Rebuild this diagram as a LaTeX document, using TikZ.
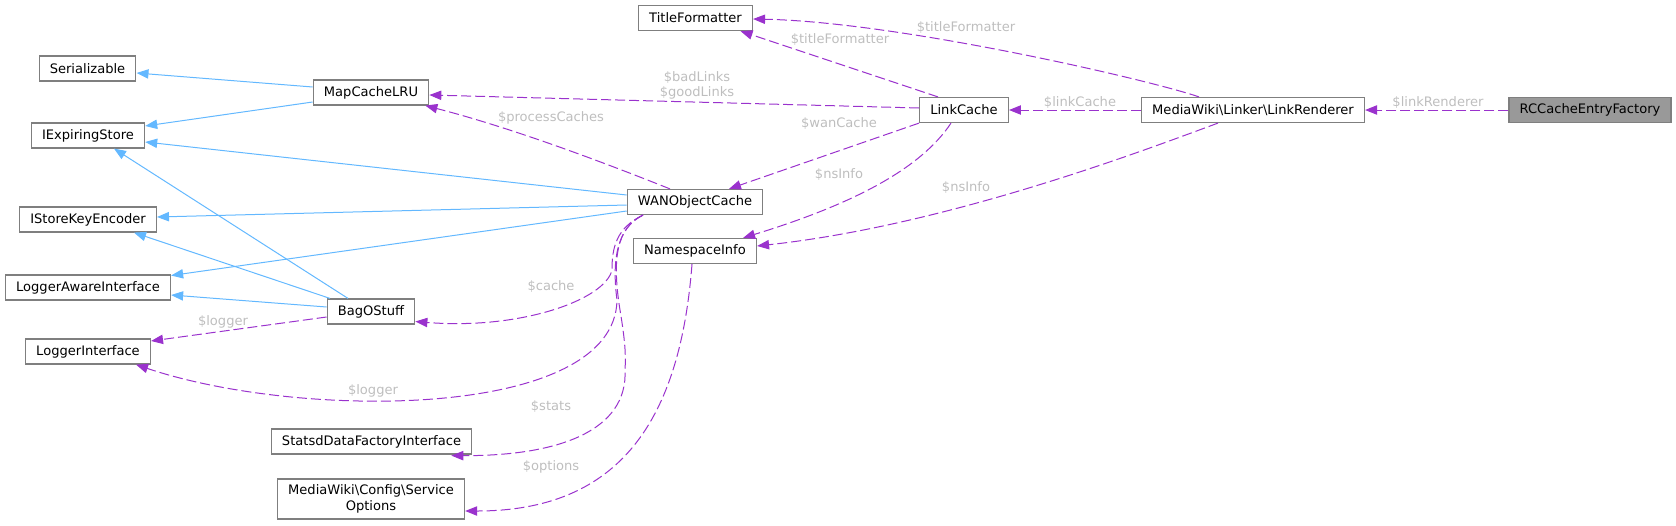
\documentclass[tikz,border=0pt]{standalone}
\usepackage{fontspec}
\setmainfont{DejaVu Sans}
\usepackage{xcolor}
\usetikzlibrary{arrows.meta,calc}
\definecolor{edgeB}{HTML}{63B8FF}
\definecolor{edgeP}{HTML}{9A32CD}
\definecolor{frame}{HTML}{7F7F7F}
\definecolor{labtxt}{HTML}{BEBEBE}
\definecolor{hilite}{HTML}{999999}
\tikzset{
  cls/.style={draw=frame, fill=white, line width=0.9pt, minimum height=18.75pt,
    inner xsep=8pt, inner ysep=2pt, align=center},
  clsH/.style={cls, fill=hilite},
  inh/.style={draw=edgeB, line width=0.75pt, -{Triangle[length=9pt,width=7pt]}},
  uses/.style={draw=edgeP, line width=0.75pt, dash pattern=on 7.5pt off 3pt,
    -{Triangle[length=9pt,width=7pt]}},
  elab/.style={text=labtxt, align=center, inner sep=0pt}
}

\begin{document}
\begin{tikzpicture}[x=0.75pt, y=-0.75pt, font=\fontsize{9.8pt}{11.5pt}\selectfont]
  \useasboundingbox (0,0) rectangle (1676,525);

  \node[cls] (Serializable) at (87.5,68.5) {Serializable};
  \node[cls] (MapCacheLRU) at (371,92.5) {MapCacheLRU};
  \node[cls] (IExpiringStore) at (88,135.5) {IExpiringStore};
  \node[cls] (IStoreKeyEncoder) at (88,219.5) {IStoreKeyEncoder};
  \node[cls] (LoggerAware) at (88,287.5) {LoggerAwareInterface};
  \node[cls] (BagOStuff) at (371,311.5) {BagOStuff};
  \node[cls] (LoggerIface) at (88,351.5) {LoggerInterface};
  \node[cls] (Statsd) at (371.5,441.5) {StatsdDataFactoryInterface};
  \node[cls, minimum height=30pt] (SvcOptions) at (371,499)
    {MediaWiki\textbackslash Config\textbackslash Service\\Options};
  \node[cls] (TitleFmt) at (695.5,18) {TitleFormatter};
  \node[cls] (LinkCache) at (964,110) {LinkCache};
  \node[cls] (WANCache) at (695,202) {WANObjectCache};
  \node[cls] (NsInfo) at (695,251) {NamespaceInfo};
  \node[cls] (LinkRenderer) at (1253,110) {MediaWiki\textbackslash Linker\textbackslash LinkRenderer};
  \node[clsH] (RCFactory) at (1590,110) {RCCacheEntryFactory};

  % inheritance
  \draw[inh] ($(MapCacheLRU.west)+(0,-5.5)$) -- ($(Serializable.east)+(0,4.5)$);
  \draw[inh] ($(MapCacheLRU.west)+(0,9.5)$) -- ($(IExpiringStore.east)+(0,-9.5)$);
  \draw[inh] ($(WANCache.west)+(0,-7)$) -- ($(IExpiringStore.east)+(0,6.5)$);
  \draw[inh] ($(WANCache.west)+(0,3)$) -- ($(IStoreKeyEncoder.east)+(0,-2.5)$);
  \draw[inh] ($(WANCache.west)+(0,9)$) -- ($(LoggerAware.east)+(0,-12)$);
  \draw[inh] ($(BagOStuff.north)+(-23,0)$) -- ($(IExpiringStore.south)+(26,0)$);
  \draw[inh] ($(BagOStuff.north)+(-41,0)$) -- ($(IStoreKeyEncoder.south)+(46,0)$);
  \draw[inh] ($(BagOStuff.west)+(0,-4.5)$) -- ($(LoggerAware.east)+(0,7.5)$);

  % usage
  \draw[uses] ($(LinkCache.west)+(0,-2)$) -- ($(MapCacheLRU.east)+(0,2.5)$);
  \draw[uses] ($(WANCache.north)+(-25,0)$) .. controls (620,169) and (520,130) .. ($(MapCacheLRU.south east)+(-4,0)$);
  \draw[uses] ($(LinkCache.north)+(-26,0)$) -- ($(TitleFmt.south)+(45,0)$);
  \draw[uses] ($(LinkRenderer.north)+(-54,0)$) .. controls (1150,80) and (900,22) .. ($(TitleFmt.east)+(0,1)$);
  \draw[uses] (LinkCache.south west) -- ($(WANCache.north)+(34,0)$);
  \draw[uses] ($(LinkCache.south)+(-13,0)$) .. controls (920,170) and (850,205) .. ($(NsInfo.north east)+(-14,0)$);
  \draw[uses] ($(LinkRenderer.south)+(-35,0)$) .. controls (1150,148) and (950,225) .. ($(NsInfo.east)+(0,-5)$);
  \draw[uses] (LinkRenderer.west) -- (LinkCache.east);
  \draw[uses] (RCFactory.west) -- (LinkRenderer.east);
  \draw[uses] ($(BagOStuff.west)+(0,5.5)$) -- ($(LoggerIface.east)+(0,-10.5)$);
  \draw[uses] ($(WANCache.south)+(-52,0)$) .. controls (616,228) and (612,248) .. (612,270)
    .. controls (605,300) and (520,330) .. ($(BagOStuff.east)+(0,10)$);
  \draw[uses] ($(WANCache.south)+(-52,0)$) .. controls (616,228) and (612,262) .. (617,300)
    .. controls (615,420) and (300,420) .. ($(LoggerIface.south)+(48,0)$);
  \draw[uses] ($(WANCache.south)+(-52,0)$) .. controls (616,228) and (612,260) .. (620,310)
    .. controls (625,340) and (626,355) .. (625,370)
    .. controls (628,430) and (560,456) .. ($(Statsd.south east)+(-21,1)$);
  \draw[uses] ($(NsInfo.south)+(-3,0)$) .. controls (680,420) and (620,511) .. ($(SvcOptions.east)+(0,12)$);

  \node[elab] (lBad) at (697,85.5) {\$badLinks\\\$goodLinks};
  \node[elab] (lProc) at (551,118) {\$processCaches};
  \node[elab] (lTF1) at (840,39) {\$titleFormatter};
  \node[elab] (lTF2) at (966,27) {\$titleFormatter};
  \node[elab] (lWan) at (839,123) {\$wanCache};
  \node[elab] (lNs1) at (839,174) {\$nsInfo};
  \node[elab] (lNs2) at (966,187) {\$nsInfo};
  \node[elab] (lLinkCache) at (1080,102) {\$linkCache};
  \node[elab] (lLinkRend) at (1438,102) {\$linkRenderer};
  \node[elab] (lCache) at (551,286) {\$cache};
  \node[elab] (lLog1) at (223,322) {\$logger};
  \node[elab] (lLog2) at (373,391) {\$logger};
  \node[elab] (lStats) at (551,406) {\$stats};
  \node[elab] (lOpts) at (551,467) {\$options};
\end{tikzpicture}
\end{document}
